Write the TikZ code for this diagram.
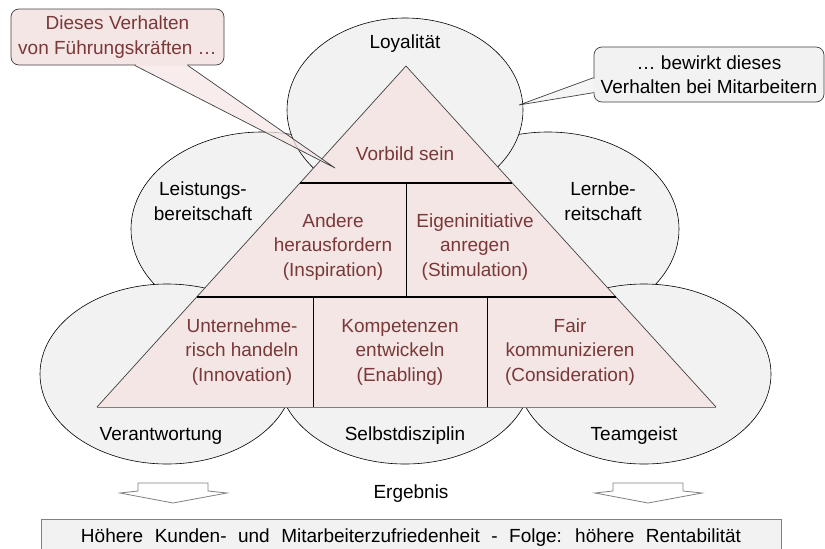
\documentclass[tikz,border=0pt]{standalone}
\usepackage{fontspec}
\setmainfont{Liberation Sans}
\usetikzlibrary{calc}
\definecolor{ellfill}{RGB}{242,242,242}
\definecolor{pinkfill}{RGB}{245,230,230}
\definecolor{tred}{RGB}{122,56,56}
\definecolor{edgegray}{RGB}{64,64,64}
\begin{document}
\begin{tikzpicture}[x=1pt,y=-1pt,
  ell/.style={draw=black, line width=0.6pt, fill=ellfill},
  lab/.style={align=center, font=\fontsize{19}{24.5}\selectfont, text=black, inner sep=0pt},
  tlab/.style={lab, text=tred},
  divh/.style={draw=black, line width=1.8pt},
  divv/.style={draw=black, line width=1pt},
  callbox/.style={lab, draw=edgegray, line width=0.7pt, rounded corners=8pt},
  hollow/.style={draw=gray, fill=white, line width=0.8pt}
]
\useasboundingbox (0,0) rectangle (825,549);
\clip (0,0) rectangle (825,549);
% ellipses
\path[ell] (262,229) ellipse [x radius=131, y radius=97];
\path[ell] (548,229) ellipse [x radius=131, y radius=97];
\path[ell] (405,110) ellipse [x radius=118, y radius=92];
\path[ell] (405,374) ellipse [x radius=127, y radius=90];
\path[ell] (167,374) ellipse [x radius=127, y radius=90];
\path[ell] (644,374) ellipse [x radius=127, y radius=90];
% triangle
\coordinate (A) at (406,66);
\coordinate (BL) at (97,407);
\coordinate (BR) at (716,407);
\fill[pinkfill] (A) -- (BL) -- (BR) -- cycle;
\draw[edgegray, line width=0.7pt] (BL) -- (A) -- (BR);
\draw[gray, line width=1pt] (BL) -- (BR);
\coordinate (h1l) at ($(A)!117/341!(BL)$);
\coordinate (h1r) at ($(A)!117/341!(BR)$);
\coordinate (h2l) at ($(A)!231/341!(BL)$);
\coordinate (h2r) at ($(A)!231/341!(BR)$);
\coordinate (v1t) at (406,183);
\coordinate (v1b) at (406,297);
\coordinate (v2t) at (313,297);
\coordinate (v2b) at (313,407);
\coordinate (v3t) at (487,297);
\coordinate (v3b) at (487,407);
\draw[divv] (v1t) -- (v1b);
\draw[divv] (v2t) -- (v2b);
\draw[divv] (v3t) -- (v3b);
\draw[divh] (h1l) -- (h1r);
\draw[divh] (h2l) -- (h2r);
% triangle texts
\node[tlab] (vorbild) at (405,154) {Vorbild sein};
\node[tlab] (andere) at (333,247) {Andere\\herausfordern\\(Inspiration)};
\node[tlab] (eigen) at (475,247) {Eigeninitiative\\anregen\\(Stimulation)};
\node[tlab] (unter) at (242,352) {Unternehme-\\risch handeln\\(Innovation)};
\node[tlab] (komp) at (400,352) {Kompetenzen\\entwickeln\\(Enabling)};
\node[tlab] (fair) at (570,352) {Fair\\kommunizieren\\(Consideration)};
% ellipse labels
\node[lab] (loy) at (405,44) {Loyalität};
\node[lab] (leist) at (203,201) {Leistungs-\\bereitschaft};
\node[lab] (lern) at (603,201) {Lernbe-\\reitschaft};
\node[lab] (ver) at (161,436) {Verantwortung};
\node[lab] (selbst) at (405,436) {Selbstdisziplin};
\node[lab] (team) at (634,436) {Teamgeist};
% left callout
\node[callbox, fill=pinkfill, text=tred, minimum width=213pt, minimum height=56pt] (cl) at (117.5,37) {Dieses Verhalten\\von Führungskräften …};
\coordinate (clt) at (335,168);
\coordinate (clw1) at ($(cl.south west)+(124,0)$);
\coordinate (clw2) at ($(cl.south west)+(177,0)$);
\fill[pinkfill, fill opacity=0.75] (clw1) -- (clt) -- (clw2) -- cycle;
\fill[pinkfill] ($(clw1)+(1,-1.5)$) rectangle ($(clw2)+(-1,1)$);
\draw[edgegray, line width=0.7pt] (clw1) -- (clt) -- (clw2);
% right callout
\node[callbox, fill=ellfill, minimum width=230pt, minimum height=55pt] (cr) at (709,74.5) {… bewirkt dieses\\Verhalten bei Mitarbeitern};
\coordinate (crt) at (519,105);
\coordinate (crw1) at ($(cr.north west)+(0,31)$);
\coordinate (crw2) at ($(cr.north west)+(0,46)$);
\fill[ellfill, fill opacity=0.75] (crw1) -- (crt) -- (crw2) -- cycle;
\fill[ellfill] ($(crw1)+(-1,1)$) rectangle ($(crw2)+(1.5,-1)$);
\draw[edgegray, line width=0.7pt] (crw1) -- (crt) -- (crw2);
% result arrows
\draw[hollow] (138,483) -- (208,483) -- (208,491) -- (227,493) -- (173,503) -- (120,493) -- (138,491) -- cycle;
\draw[hollow] (613,483) -- (683,483) -- (683,491) -- (702,493) -- (648,503) -- (595,493) -- (613,491) -- cycle;
\node[lab] (erg) at (411,494) {Ergebnis};
\node[lab, draw=gray, line width=0.8pt, fill=ellfill, minimum width=740pt, minimum height=36pt, anchor=north] (res) at (411,519) {\spaceskip=11.5pt Höhere Kunden- und Mitarbeiterzufriedenheit - Folge: höhere Rentabilität};
\end{tikzpicture}
\end{document}
